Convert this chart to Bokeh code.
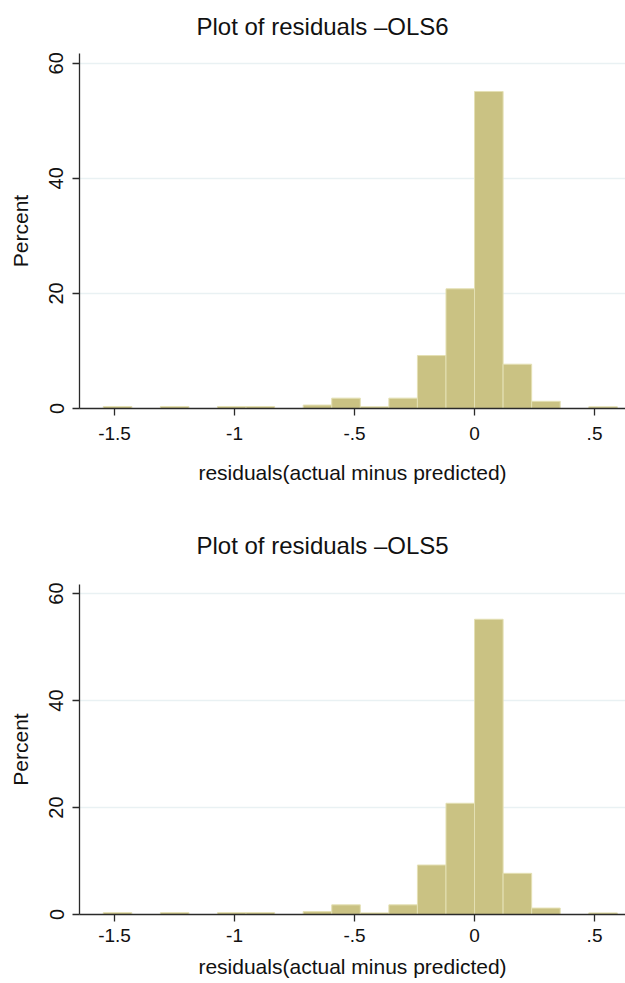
from bokeh.plotting import figure
from bokeh.models import Range1d, FixedTicker
from bokeh.layouts import column
from bokeh.embed import file_html
from bokeh.resources import INLINE

# Histogram bin edges (residual units)
bin_edges = [-1.547, -1.428, -1.309, -1.190, -1.071, -0.952, -0.833, -0.714,
             -0.595, -0.476, -0.357, -0.238, -0.119, 0.000, 0.119, 0.238,
             0.357, 0.476, 0.595]

# Percent per bin
pct_ols6 = [0.35, 0, 0.35, 0, 0.35, 0.35, 0, 0.6, 1.8, 0.3, 1.8, 9.2,
            20.8, 55.1, 7.7, 1.25, 0, 0.3]
pct_ols5 = [0.35, 0, 0.35, 0, 0.35, 0.35, 0, 0.55, 1.8, 0.3, 1.8, 9.25,
            20.8, 55.2, 7.7, 1.2, 0, 0.3]

x_tick_values = [-1.5, -1, -0.5, 0, 0.5]
x_tick_labels = ["-1.5", "-1", "-.5", "0", ".5"]
y_tick_values = [0, 20, 40, 60]

titles = ["Plot of residuals \u2013OLS6", "Plot of residuals \u2013OLS5"]
x_title = "residuals(actual minus predicted)"
y_title = "Percent"

FONT = "Liberation Sans"
BAR_FILL = "#CAC283"
BAR_LINE = "#E4E0B4"
GRID = "#E9F1F3"
AXIS = "#2a2a2a"


def make_panel(title, pct, height, b_top, b_bottom, t_standoff,
               xl_standoff, xt_standoff):
    p = figure(width=625, height=height,
               x_range=Range1d(-1.646, 0.629), y_range=Range1d(0, 61.7),
               output_backend="svg", toolbar_location=None,
               min_border_left=79, min_border_right=0,
               min_border_top=b_top, min_border_bottom=b_bottom)
    p.outline_line_color = None
    p.background_fill_color = "white"
    p.border_fill_color = "white"

    p.quad(left=bin_edges[:-1], right=bin_edges[1:], bottom=0, top=pct,
           fill_color=BAR_FILL, line_color=BAR_LINE, line_width=1)

    p.title.text = title
    p.title.align = "left"
    p.title.vertical_align = "top"
    p.title.offset = 117
    p.title.text_font = FONT
    p.title.text_font_size = "24px"
    p.title.text_font_style = "normal"
    p.title.text_color = "#111111"
    p.title.standoff = t_standoff

    p.xgrid.visible = False
    p.ygrid.ticker = FixedTicker(ticks=[20, 40, 60])
    p.ygrid.grid_line_color = GRID
    p.ygrid.grid_line_width = 1.4

    xa = p.xaxis[0]
    xa.ticker = FixedTicker(ticks=x_tick_values)
    xa.major_label_overrides = dict(zip(x_tick_values, x_tick_labels))
    xa.axis_label = x_title
    ya = p.yaxis[0]
    ya.ticker = FixedTicker(ticks=y_tick_values)
    ya.axis_label = y_title
    ya.major_label_orientation = "vertical"

    for ax in (xa, ya):
        ax.axis_line_color = AXIS
        ax.axis_line_width = 1.3
        ax.major_tick_line_color = AXIS
        ax.major_tick_line_width = 1.3
        ax.major_tick_in = 0
        ax.major_tick_out = 7
        ax.minor_tick_line_color = None
        ax.major_label_text_font = FONT
        ax.major_label_text_color = "#111111"
        ax.axis_label_text_font = FONT
        ax.axis_label_text_font_style = "normal"
        ax.axis_label_text_color = "#111111"
        ax.axis_label_text_font_size = "21px"
    xa.major_label_text_font_size = "19px"
    ya.major_label_text_font_size = "20px"
    xa.major_label_standoff = xt_standoff
    xa.axis_label_standoff = xl_standoff
    ya.major_label_standoff = 9
    ya.axis_label_standoff = 15
    return p


p1 = make_panel(titles[0], pct_ols6, 508, 52, 100, 24, 18, 11)
p2 = make_panel(titles[1], pct_ols5, 475, 74, 69, 47, 10, 7)

layout = column(p1, p2, spacing=0)
open("out.html", "w").write(file_html(layout, INLINE))
